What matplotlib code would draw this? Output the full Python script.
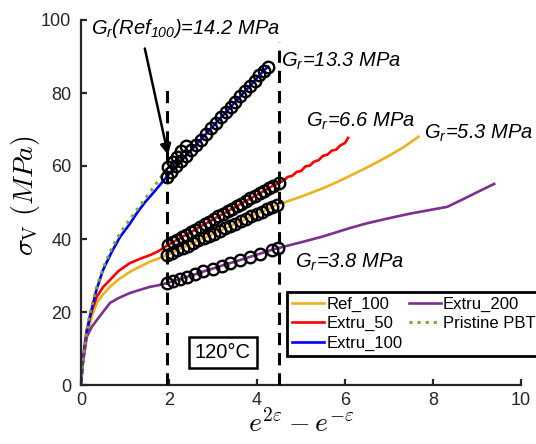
import numpy as np
import matplotlib
matplotlib.use("Agg")
import matplotlib.pyplot as plt

plt.rcParams["font.family"] = ["Liberation Sans", "DejaVu Sans"]
plt.rcParams["mathtext.fontset"] = "custom"
plt.rcParams["mathtext.rm"] = "Liberation Sans:italic"
plt.rcParams["mathtext.it"] = "Liberation Sans:italic"
plt.rcParams["mathtext.bf"] = "Liberation Sans:italic:bold"

# --- data (x = e^{2eps} - e^{-eps}, y = sigma_V in MPa) ---
ref100_x = [0, 0.03, 0.13, 0.25, 0.36, 0.5, 0.66, 0.85, 1.11, 1.35, 1.57, 1.75,
            1.95, 2.07, 2.19, 2.31, 2.43, 2.55, 2.67, 2.79, 2.91, 3.03, 3.15, 3.27,
            3.39, 3.51, 3.63, 3.75, 3.87, 3.99, 4.11, 4.23, 4.35, 4.45,
            4.59, 5.0, 5.5, 5.82, 6.2, 6.6, 7.0, 7.35, 7.67]
ref100_y = [0, 5, 13, 19, 22.5, 24.8, 26.9, 28.9, 31, 32.5, 33.8, 34.6,
            35.6, 36.3, 36.9, 37.6, 38.2, 38.9, 39.6, 40.2, 40.9, 41.5, 42.2, 42.9,
            43.5, 44.2, 44.8, 45.5, 46.2, 46.8, 47.5, 48.1, 48.8, 49.4,
            49.9, 51.6, 53.9, 55.6, 57.8, 60.2, 62.8, 65.3, 68.0]

extru50_x = [0, 0.03, 0.13, 0.25, 0.36, 0.5, 0.66, 0.85, 1.11, 1.35, 1.57, 1.75,
             1.98, 2.08, 2.18, 2.29, 2.39, 2.5, 2.6, 2.7, 2.81, 2.91, 3.02, 3.12,
             3.22, 3.33, 3.43, 3.54, 3.64, 3.74, 3.85, 3.95, 4.06, 4.16, 4.27, 4.37,
             4.5, 4.6, 4.7, 4.8, 4.9, 5.0, 5.1, 5.2, 5.3, 5.4, 5.5, 5.6, 5.7, 5.8,
             5.9, 6.0, 6.07]
extru50_y = [0, 6, 15.1, 20.5, 24.2, 26.8, 28.8, 31.2, 33.4, 34.6, 35.6, 36.6,
             38.4, 39.1, 39.8, 40.5, 41.2, 41.9, 42.6, 43.3, 44.1, 44.7, 45.5, 46.2,
             46.8, 47.6, 48.3, 49.0, 49.7, 50.4, 51.1, 51.8, 52.5, 53.2, 54.0, 54.6,
             55.4, 56.0, 57.0, 57.3, 58.4, 58.6, 59.9, 60.1, 61.2, 61.6, 62.8, 63.1,
             64.2, 64.5, 65.7, 66.3, 67.7]

extru100_x = [0, 0.02, 0.05, 0.1, 0.2, 0.35, 0.5, 0.7, 0.89, 1.1, 1.27, 1.45, 1.64, 1.8,
              1.95, 2.05, 2.16, 2.27, 2.38, 2.5, 2.61, 2.72, 2.84, 2.95, 3.06, 3.18,
              3.29, 3.4, 3.51, 3.62, 3.73, 3.84, 3.95, 4.05, 4.15, 4.25]
extru100_y = [0, 3, 6.8, 12, 18.7, 26, 31.5, 36.5, 40.6, 44, 47.1, 50, 52.6, 54.9,
              57.1, 58.4, 59.9, 61.3, 62.8, 64.3, 65.8, 67.2, 68.8, 70.3, 71.7, 73.3,
              74.7, 76.2, 77.6, 79.1, 80.5, 82.0, 83.4, 84.8, 86.1, 87.2]

extru200_x = [0, 0.03, 0.13, 0.25, 0.36, 0.5, 0.66, 0.85, 1.11, 1.35, 1.57, 1.75,
              1.95, 2.1, 2.25, 2.4, 2.59, 2.78, 3.0, 3.2, 3.39, 3.61, 3.84, 4.07, 4.33,
              4.48, 5.0, 5.5, 6.11, 6.5, 7.0, 7.5, 8.0, 8.32, 8.7, 9.0, 9.39]
extru200_y = [0, 5, 13.2, 16, 17.8, 20, 22.5, 23.8, 25.2, 26.1, 26.9, 27.3,
              27.9, 28.5, 29.0, 29.6, 30.3, 31.1, 31.9, 32.7, 33.4, 34.2, 35.1, 36.0, 37.0,
              37.5, 39.1, 40.7, 43.0, 44.3, 45.7, 47.0, 48.1, 48.8, 51.0, 52.8, 55.1]

pristine_x = [0, 0.02, 0.05, 0.1, 0.2, 0.35, 0.5, 0.7, 0.9, 1.1, 1.3, 1.5, 1.7, 1.85,
              1.98, 2.08, 2.18, 2.28, 2.38]
pristine_y = [0, 3.5, 7.5, 12.5, 19.5, 26.5, 32, 37.5, 41.8, 45.2, 48.5, 51.7, 55, 57.5,
              59.8, 61.2, 62.6, 64.0, 65.4]

labels = ["Ref_100", "Extru_50", "Extru_100", "Extru_200", "Pristine PBT"]
colors = ["#EDB120", "#FF0000", "#0000FF", "#7E2F8E", "#77AC30"]
styles = ["-", "-", "-", "-", ":"]

fit_window = [1.96, 4.5]       # x of the two dashed lines
fit_window_top = [81, 94]
fit_labels = ["$G_r$(Ref$_{100}$)=14.2 MPa", "G$_r$=13.3 MPa", "G$_r$=6.6 MPa",
              "G$_r$=5.3 MPa", "G$_r$=3.8 MPa"]

series = [(ref100_x, ref100_y), (extru50_x, extru50_y), (extru100_x, extru100_y),
          (extru200_x, extru200_y), (pristine_x, pristine_y)]

fig = plt.figure(figsize=(5.36, 4.44), dpi=100)
ax = fig.add_axes([81 / 536, 1 - 385 / 444, 440 / 536, 365 / 444])

handles = {}
for i in [3, 0, 1, 2, 4]:
    x, y = series[i]
    ln, = ax.plot(x, y, styles[i], color=colors[i], lw=1.9 if i != 4 else 2.2,
                  label=labels[i], zorder=2 + i * 0.1)
    handles[i] = ln

# open circles on the points used for the G_r fit
for x, y in series:
    x, y = np.array(x), np.array(y)
    m = (x >= 1.94) & (x <= fit_window[1])
    ax.plot(x[m], y[m], "o", mfc="none", mec="black", ms=8.3, mew=1.7, zorder=4)

ax.vlines(fit_window, 0, fit_window_top, colors="black", lw=2.2,
          linestyles=(0, (4, 2.6)), zorder=5)

ax.set_xlim(0, 10)
ax.set_ylim(0, 100)
ax.set_xticks([0, 2, 4, 6, 8, 10])
ax.set_yticks([0, 20, 40, 60, 80, 100])
for s in ["top", "right"]:
    ax.spines[s].set_visible(False)
for s in ["left", "bottom"]:
    ax.spines[s].set_linewidth(1.6)
    ax.spines[s].set_color("#262626")
ax.tick_params(direction="in", length=4, width=1.6, labelsize=13, colors="#262626")
ax.tick_params(axis="x", pad=5)
ax.tick_params(axis="y", pad=7)

ax.set_xlabel(r"$e^{2\varepsilon}-e^{-\varepsilon}$", fontsize=20, math_fontfamily="cm")
ax.set_ylabel(r"$\sigma_{\mathrm{V}}\ (MPa)$", fontsize=20, math_fontfamily="cm")
ax.xaxis.set_label_coords(0.5, -0.068)
ax.yaxis.set_label_coords(-0.088, 0.52)

tkw = dict(fontsize=14.5, style="italic", va="baseline", ha="left", zorder=6)
ax.text(0.22, 96.3, fit_labels[0], **tkw)
ax.text(4.55, 87.2, fit_labels[1], **tkw)
ax.text(5.11, 70.8, fit_labels[2], **tkw)
ax.text(7.8, 67.6, fit_labels[3], **tkw)
ax.text(4.86, 32.2, fit_labels[4], **tkw)

ax.annotate("", xy=(1.98, 63), xytext=(1.45, 92.2),
            arrowprops=dict(arrowstyle="-|>", color="black", lw=1.8, mutation_scale=16,
                            shrinkA=0, shrinkB=0), zorder=6)

ax.text(3.22, 8.8, "120°C", fontsize=14.5, ha="center", va="center", zorder=6,
        bbox=dict(boxstyle="square,pad=0.3", fc="white", ec="black", lw=1.8))

leg = ax.legend([handles[i] for i in range(5)], labels, ncol=2, loc="upper left",
                bbox_to_anchor=(287 / 536, 1 - 292 / 444), bbox_transform=fig.transFigure,
                fontsize=12, frameon=True, fancybox=False, edgecolor="black",
                framealpha=1, borderaxespad=0, handlelength=1.9, handletextpad=0.15,
                columnspacing=0.4, labelspacing=0.25, borderpad=0.3)
leg.get_frame().set_linewidth(2)
leg.set_zorder(7)

fig.savefig("out.png", dpi=100)
